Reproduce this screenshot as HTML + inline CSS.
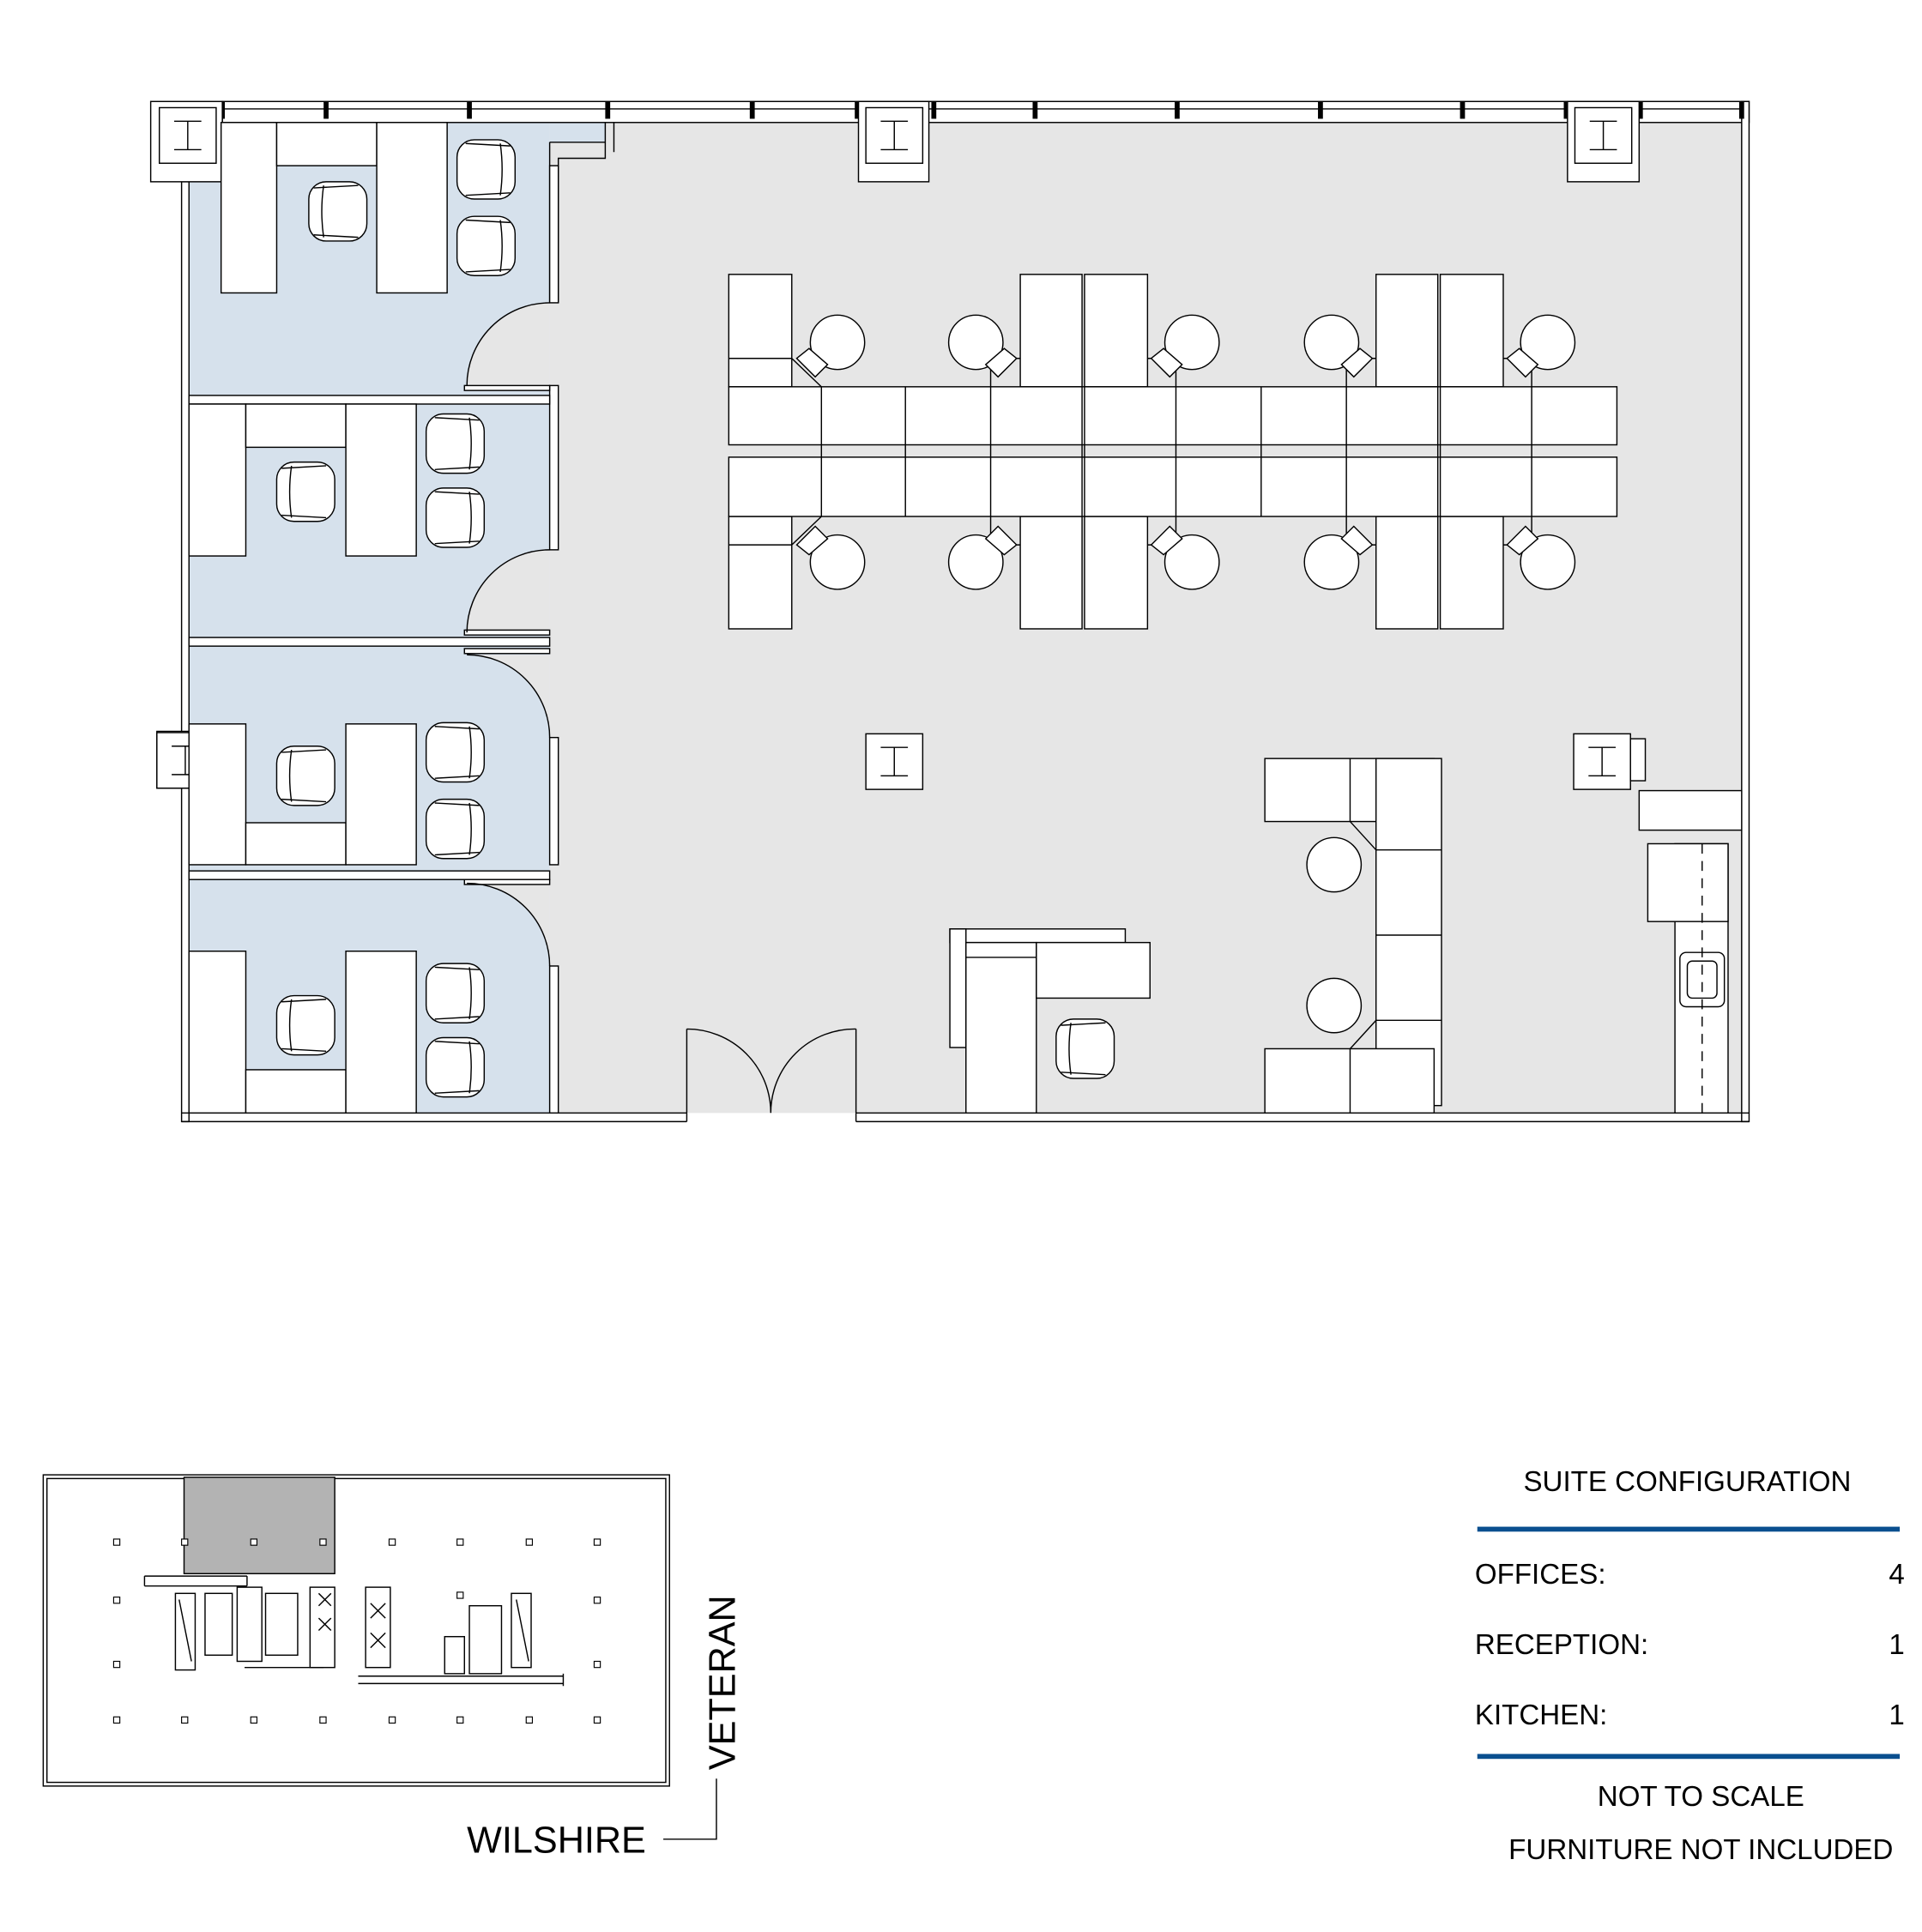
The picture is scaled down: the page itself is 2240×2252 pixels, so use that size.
<!DOCTYPE html>
<html><head><meta charset="utf-8"><style>
html,body{margin:0;padding:0;background:#fff}
svg{display:block}
text{font-family:"Liberation Sans",Arial,sans-serif;fill:#000}
</style></head><body>
<svg width="2240" height="2252" viewBox="0 0 1556 1564" xmlns="http://www.w3.org/2000/svg">
<defs>
<g id="chair" fill="#fff" stroke="#000" stroke-width="1">
<rect x="0" y="0" width="47" height="48" rx="14"/>
<path d="M12 3 Q9 24 12 45" fill="none"/>
<path d="M4 5 L40 3 M4 43 L40 45" fill="none"/>
</g>
<g id="chairR" fill="#fff" stroke="#000" stroke-width="1">
<rect x="0" y="0" width="47" height="48" rx="14"/>
<path d="M35 3 Q38 24 35 45" fill="none"/>
<path d="M7 3 L43 5 M7 45 L43 43" fill="none"/>
</g>
<g id="col" fill="#fff" stroke="#000" stroke-width="1">
<rect x="0" y="0" width="46" height="45"/>
<path d="M12 11 H34 M12 34 H34 M23 11 V34" fill="none"/>
</g>
</defs>

<!-- floors -->
<rect x="445" y="99" width="965" height="802" fill="#e6e6e6"/>
<rect x="153" y="99" width="292" height="802" fill="#d6e1ec"/>
<rect x="445" y="99" width="45" height="16" fill="#d6e1ec"/>
<path d="M445 245 A67 67 0 0 0 378 312 L445 312 Z" fill="#e6e6e6"/>
<path d="M445 445 A67 67 0 0 0 378 512 L445 512 Z" fill="#e6e6e6"/>
<path d="M445 597 A67 67 0 0 0 378 530 L445 530 Z" fill="#e6e6e6"/>
<path d="M445 782 A67 67 0 0 0 378 715 L445 715 Z" fill="#e6e6e6"/>

<g fill="none" stroke="#000" stroke-width="1">
<rect x="180" y="82" width="1236" height="17" fill="#fff"/>
<line x1="180" y1="88" x2="1416" y2="88"/>
<rect x="1410" y="82" width="6" height="826" fill="#fff"/>
<rect x="147" y="147" width="6" height="761" fill="#fff"/>
<path d="M147 901 H556 M147 908 H556 M693 901 H1416 M693 908 H1416 M556 901 V908 M693 901 V908"/>
<path d="M490 99 V128 H452 V245 M497 99 V123 M445 115 H490 M445 115 V245" />
<rect x="445" y="134" width="7" height="111" fill="#fff"/>
<rect x="445" y="312" width="7" height="133" fill="#fff"/>
<rect x="445" y="597" width="7" height="103" fill="#fff"/>
<rect x="445" y="782" width="7" height="119" fill="#fff"/>
<rect x="153" y="320" width="292" height="7" fill="#fff"/>
<rect x="153" y="516" width="292" height="7" fill="#fff"/>
<rect x="153" y="705" width="292" height="7" fill="#fff"/>
<rect x="376" y="312" width="69" height="4" fill="#fff"/>
<rect x="376" y="510" width="69" height="4" fill="#fff"/>
<rect x="376" y="525" width="69" height="4" fill="#fff"/>
<rect x="376" y="712" width="69" height="4" fill="#fff"/>
<path d="M445 245 A67 67 0 0 0 378 312"/>
<path d="M445 445 A67 67 0 0 0 378 512"/>
<path d="M445 597 A67 67 0 0 0 378 530"/>
<path d="M445 782 A67 67 0 0 0 378 715"/>
<path d="M556 833 V901 M556 833 A68 68 0 0 1 624 901 M693 833 V901 M693 833 A68 68 0 0 0 624 901"/>
</g>
<g fill="#000">
<rect x="178" y="82" width="4" height="14"/><rect x="262" y="82" width="4" height="14"/>
<rect x="378" y="82" width="4" height="14"/><rect x="490" y="82" width="4" height="14"/>
<rect x="607" y="82" width="4" height="14"/><rect x="692" y="82" width="4" height="14"/>
<rect x="754" y="82" width="4" height="14"/><rect x="836" y="82" width="4" height="14"/>
<rect x="951" y="82" width="4" height="14"/><rect x="1067" y="82" width="4" height="14"/>
<rect x="1182" y="82" width="4" height="14"/><rect x="1266" y="82" width="4" height="14"/>
<rect x="1326" y="82" width="4" height="14"/><rect x="1408" y="82" width="4" height="14"/>
</g>
<g fill="#fff" stroke="#000" stroke-width="1">
<rect x="122" y="82" width="58" height="65"/>
<rect x="695" y="82" width="57" height="65"/>
<rect x="1269" y="82" width="58" height="65"/>
<rect x="127" y="592" width="46" height="46"/>
</g>
<use href="#col" x="129" y="87"/>
<use href="#col" x="701" y="87"/>
<use href="#col" x="1275" y="87"/>
<use href="#col" x="127" y="593"/>
<use href="#col" x="701" y="594"/>
<use href="#col" x="1274" y="594"/>

<g fill="#fff" stroke="#000" stroke-width="1">
<rect x="179" y="99" width="45" height="138"/><rect x="224" y="99" width="81" height="35"/><rect x="305" y="99" width="57" height="138"/>
<rect x="153" y="327" width="46" height="123"/><rect x="199" y="327" width="81" height="35"/><rect x="280" y="327" width="57" height="123"/>
<rect x="153" y="586" width="46" height="114"/><rect x="199" y="666" width="81" height="34"/><rect x="280" y="586" width="57" height="114"/>
<rect x="153" y="770" width="46" height="131"/><rect x="199" y="866" width="81" height="35"/><rect x="280" y="770" width="57" height="131"/>
</g>
<use href="#chair" x="250" y="147"/><use href="#chairR" x="370" y="113"/><use href="#chairR" x="370" y="175"/>
<use href="#chair" x="224" y="374"/><use href="#chairR" x="345" y="335"/><use href="#chairR" x="345" y="395"/>
<use href="#chair" x="224" y="604"/><use href="#chairR" x="345" y="585"/><use href="#chairR" x="345" y="647"/>
<use href="#chair" x="224" y="806"/><use href="#chairR" x="345" y="780"/><use href="#chairR" x="345" y="840"/>

<g fill="#fff" stroke="#000" stroke-width="1">
<rect x="590" y="222" width="51" height="91"/><rect x="826" y="222" width="50" height="91"/><rect x="878" y="222" width="51" height="91"/><rect x="1114" y="222" width="50" height="91"/><rect x="1166" y="222" width="51" height="91"/>
<rect x="590" y="418" width="51" height="91"/><rect x="826" y="418" width="50" height="91"/><rect x="878" y="418" width="51" height="91"/><rect x="1114" y="418" width="50" height="91"/><rect x="1166" y="418" width="51" height="91"/>
<rect x="590" y="313" width="719" height="47"/><rect x="590" y="370" width="719" height="48"/>
<rect x="1024" y="614" width="137" height="51"/><rect x="1114" y="614" width="53" height="281"/>
<rect x="1024" y="849" width="137" height="52"/>
<rect x="769" y="752" width="142" height="11"/>
<rect x="769" y="752" width="13" height="96"/>
<rect x="782" y="763" width="57" height="138"/>
<rect x="839" y="763" width="92" height="45"/>
<rect x="1327" y="640" width="83" height="32"/><rect x="1320" y="598" width="12" height="34"/>
<rect x="1356" y="683" width="43" height="218"/>
<rect x="1334" y="683" width="65" height="63"/>
<rect x="1360" y="771" width="36" height="44" rx="5"/>
<rect x="1366" y="778" width="24" height="30" rx="4"/>
</g>
<g fill="none" stroke="#000" stroke-width="1">
<path d="M590 290 H641 L665 313 M826 290 H802 V313 M929 290 H952 V313 M1114 290 H1090 V313 M1217 290 H1240 V313 M590 441 H641 L665 418 M826 441 H802 V418 M929 441 H952 V418 M1114 441 H1090 V418 M1217 441 H1240 V418"/>
<path d="M665 313 V418 M733 313 V418 M802 313 V418 M876 313 V418 M878 313 V418 M952 313 V418 M1021 313 V418 M1090 313 V418 M1166 313 V418 M1164 313 V418 M1240 313 V418"/>
<path d="M1093 614 V665 M1093 849 V901 M1114 688 H1167 M1114 757 H1167 M1114 826 H1167 M1093 665 L1114 688 M1093 849 L1114 826"/>
<path d="M782 775 H839"/>
</g>
<path d="M1378 683 V901" stroke="#000" stroke-dasharray="8 6" fill="none"/>
<g fill="#fff" stroke="#000" stroke-width="1">
<circle cx="678" cy="277" r="22"/><circle cx="790" cy="277" r="22"/><circle cx="965" cy="277" r="22"/><circle cx="1078" cy="277" r="22"/><circle cx="1253" cy="277" r="22"/>
<circle cx="678" cy="455" r="22"/><circle cx="790" cy="455" r="22"/><circle cx="965" cy="455" r="22"/><circle cx="1078" cy="455" r="22"/><circle cx="1253" cy="455" r="22"/>
<circle cx="1080" cy="700" r="22"/><circle cx="1080" cy="814" r="22"/>
<path d="M645 290 L660 305 L670 295 L655 282 Z M823 290 L808 305 L798 295 L813 282 Z M932 290 L947 305 L957 295 L942 282 Z M1111 290 L1096 305 L1086 295 L1101 282 Z M1220 290 L1235 305 L1245 295 L1230 282 Z"/>
<path d="M645 441 L660 426 L670 436 L655 449 Z M823 441 L808 426 L798 436 L813 449 Z M932 441 L947 426 L957 436 L942 449 Z M1111 441 L1096 426 L1086 436 L1101 449 Z M1220 441 L1235 426 L1245 436 L1230 449 Z"/>
</g>
<use href="#chair" x="855" y="825"/>

<g fill="none" stroke="#000" stroke-width="1">
<rect x="35" y="1194" width="507" height="252"/>
<rect x="38" y="1197" width="501" height="246"/>
<rect x="149" y="1196" width="122" height="78" fill="#b3b3b3"/>
<path d="M117 1276 H200 M117 1284 H200 M200 1276 V1284 M117 1276 V1284"/>
<rect x="142" y="1290" width="16" height="62"/><rect x="166" y="1290" width="22" height="50"/>
<rect x="192" y="1285" width="20" height="60"/><rect x="215" y="1290" width="26" height="50"/>
<rect x="251" y="1285" width="20" height="65"/><rect x="296" y="1285" width="20" height="65"/>
<path d="M198 1350 H262 M290 1357 H456 M290 1363 H456 M456 1355 V1365"/>
<rect x="360" y="1325" width="16" height="30"/><rect x="380" y="1300" width="26" height="55"/>
<rect x="414" y="1290" width="16" height="60"/>
<path d="M258 1290 L268 1300 M258 1300 L268 1290 M258 1310 L268 1320 M258 1320 L268 1310 M300 1298 L312 1310 M300 1310 L312 1298 M300 1322 L312 1334 M300 1334 L312 1322 M418 1295 L428 1345 M145 1295 L155 1345"/>
</g>
<g fill="#fff" stroke="#000" stroke-width="0.8">
<rect x="92" y="1246" width="5" height="5"/><rect x="147" y="1246" width="5" height="5"/><rect x="203" y="1246" width="5" height="5"/><rect x="259" y="1246" width="5" height="5"/><rect x="315" y="1246" width="5" height="5"/><rect x="370" y="1246" width="5" height="5"/><rect x="426" y="1246" width="5" height="5"/><rect x="481" y="1246" width="5" height="5"/>
<rect x="92" y="1293" width="5" height="5"/><rect x="370" y="1289" width="5" height="5"/><rect x="481" y="1293" width="5" height="5"/>
<rect x="92" y="1345" width="5" height="5"/><rect x="481" y="1345" width="5" height="5"/>
<rect x="92" y="1390" width="5" height="5"/><rect x="147" y="1390" width="5" height="5"/><rect x="203" y="1390" width="5" height="5"/><rect x="259" y="1390" width="5" height="5"/><rect x="315" y="1390" width="5" height="5"/><rect x="370" y="1390" width="5" height="5"/><rect x="426" y="1390" width="5" height="5"/><rect x="481" y="1390" width="5" height="5"/>
</g>
<path d="M537 1489 H580 V1440" fill="none" stroke="#000" stroke-width="1"/>
<text x="378" y="1500" font-size="30">WILSHIRE</text>
<text transform="translate(595,1433) rotate(-90)" font-size="30">VETERAN</text>

<text x="1366" y="1207" font-size="23" text-anchor="middle">SUITE CONFIGURATION</text>
<rect x="1196" y="1236" width="342" height="4" fill="#0a4f8f"/>
<text x="1194" y="1282" font-size="23">OFFICES:</text><text x="1542" y="1282" font-size="23" text-anchor="end">4</text>
<text x="1194" y="1339" font-size="23">RECEPTION:</text><text x="1542" y="1339" font-size="23" text-anchor="end">1</text>
<text x="1194" y="1396" font-size="23">KITCHEN:</text><text x="1542" y="1396" font-size="23" text-anchor="end">1</text>
<rect x="1196" y="1420" width="342" height="4" fill="#0a4f8f"/>
<text x="1377" y="1462" font-size="23" text-anchor="middle">NOT TO SCALE</text>
<text x="1377" y="1505" font-size="23" text-anchor="middle">FURNITURE NOT INCLUDED</text>
</svg>
</body></html>
